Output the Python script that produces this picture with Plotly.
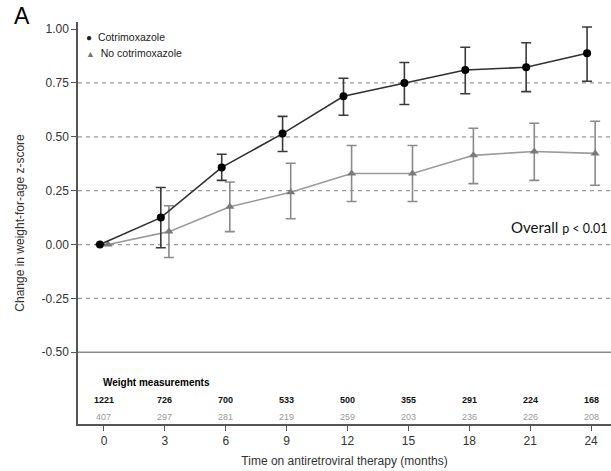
import plotly.graph_objects as go

months = [0, 3, 6, 9, 12, 15, 18, 21, 24]
cot_mean = [0.0, 0.125, 0.358, 0.515, 0.688, 0.750, 0.810, 0.823, 0.888]
cot_lo = [None, -0.015, 0.298, 0.432, 0.600, 0.650, 0.700, 0.710, 0.758]
cot_hi = [None, 0.265, 0.419, 0.595, 0.772, 0.845, 0.916, 0.937, 1.010]
no_mean = [0.0, 0.060, 0.175, 0.243, 0.330, 0.330, 0.414, 0.432, 0.423]
no_lo = [None, -0.060, 0.060, 0.120, 0.200, 0.200, 0.283, 0.298, 0.275]
no_hi = [None, 0.180, 0.290, 0.377, 0.460, 0.460, 0.540, 0.563, 0.572]
cot_n = [1221, 726, 700, 533, 500, 355, 291, 224, 168]
no_n = [407, 297, 281, 219, 259, 203, 236, 226, 208]
y_ticks = [-0.5, -0.25, 0.0, 0.25, 0.5, 0.75, 1.0]
y_ticktext = ["-0.50", "-0.25", "0.00", "0.25", "0.50", "0.75", "1.00"]
dashed_grid = [-0.25, 0.0, 0.25, 0.5, 0.75]
solid_grid = [-0.5]

off = 0.2
FONT = "Liberation Sans, Arial, sans-serif"


def err(mean, lo, hi):
    plus = [None if h is None else h - m for m, h in zip(mean, hi)]
    minus = [None if l is None else m - l for m, l in zip(mean, lo)]
    return plus, minus


fig = go.Figure()

p, m = err(no_mean, no_lo, no_hi)
fig.add_trace(go.Scatter(
    x=[v + off for v in months], y=no_mean, mode="lines+markers",
    line=dict(color="#9a9a9a", width=1.6),
    marker=dict(symbol="triangle-up", size=8, color="#7a7a7a"),
    error_y=dict(type="data", symmetric=False, array=p, arrayminus=m,
                 color="#8a8a8a", thickness=1.6, width=5),
    showlegend=False, name="No cotrimoxazole"))

p, m = err(cot_mean, cot_lo, cot_hi)
fig.add_trace(go.Scatter(
    x=[v - off for v in months], y=cot_mean, mode="lines+markers",
    line=dict(color="#303030", width=1.6),
    marker=dict(symbol="circle", size=8, color="#000000"),
    error_y=dict(type="data", symmetric=False, array=p, arrayminus=m,
                 color="#3a3a3a", thickness=1.6, width=5),
    showlegend=False, name="Cotrimoxazole"))

shapes = []
for g in dashed_grid:
    shapes.append(dict(type="line", xref="paper", x0=0, x1=1, yref="y", y0=g, y1=g,
                       line=dict(color="#9a9a9a", width=1.2, dash="4px,4px"), layer="below"))
for g in solid_grid:
    shapes.append(dict(type="line", xref="paper", x0=0, x1=1, yref="y", y0=g, y1=g,
                       line=dict(color="#8a8a8a", width=1.5), layer="below"))

ann = []
ann.append(dict(text="A", xref="paper", yref="paper", x=-0.105, y=1.015, xanchor="center",
                yanchor="middle", showarrow=False, font=dict(family=FONT, size=23, color="#000")))
ann.append(dict(text="<span style='font-size:10px'>●</span>  Cotrimoxazole", xref="paper", yref="paper",
                x=0.012, y=0.963, xanchor="left", yanchor="middle", showarrow=False,
                font=dict(family=FONT, size=10.5, color="#222")))
ann.append(dict(text="<span style='color:#777;font-size:9px'>▲</span>  No cotrimoxazole", xref="paper", yref="paper",
                x=0.012, y=0.922, xanchor="left", yanchor="middle", showarrow=False,
                font=dict(family=FONT, size=10.5, color="#222")))
ann.append(dict(text="Overall <span style='font-size:12.5px'>p < 0.01</span>", xref="paper", yref="y",
                x=0.998, y=0.08, xanchor="right", yanchor="middle", showarrow=False,
                font=dict(family="Lato, Carlito, sans-serif", size=15, color="#111")))
ann.append(dict(text="<b>Weight measurements</b>", xref="x", yref="y", x=-0.15, y=-0.642,
                xanchor="left", yanchor="middle", showarrow=False,
                font=dict(family=FONT, size=10, color="#000")))
for xv, n1, n2 in zip(months, cot_n, no_n):
    ann.append(dict(text=f"<b>{n1}</b>", xref="x", yref="y", x=xv, y=-0.721, showarrow=False,
                    font=dict(family=FONT, size=9, color="#111")))
    ann.append(dict(text=f"{n2}", xref="x", yref="y", x=xv, y=-0.800, showarrow=False,
                    font=dict(family=FONT, size=9, color="#999")))

fig.update_layout(
    width=611, height=471,
    margin=dict(l=78, r=0, t=22, b=47),
    paper_bgcolor="white", plot_bgcolor="white",
    shapes=shapes, annotations=ann,
    font=dict(family=FONT, size=12, color="#333"),
    xaxis=dict(range=[-1.28, 24.98], tickvals=months, ticks="outside", ticklen=5,
               tickcolor="#555", showgrid=False, zeroline=False, showline=True,
               linecolor="#555", linewidth=1.5, tickfont=dict(size=12, color="#333"),
               title=dict(text="Time on antiretroviral therapy (months)", standoff=9,
                          font=dict(size=12, color="#333"))),
    yaxis=dict(range=[-0.833, 1.033], tickvals=y_ticks, ticktext=y_ticktext, ticks="outside",
               ticklen=5, tickcolor="#555", showgrid=False, zeroline=False, showline=True,
               linecolor="#555", linewidth=1.5, tickfont=dict(size=12, color="#333"),
               title=dict(text="Change in weight-for-age z-score", standoff=14,
                          font=dict(size=12, color="#333"))),
)

fig.write_html("out.html", config={"displayModeBar": False},
               post_script="document.body.style.margin='0';document.body.style.overflow='hidden';")
